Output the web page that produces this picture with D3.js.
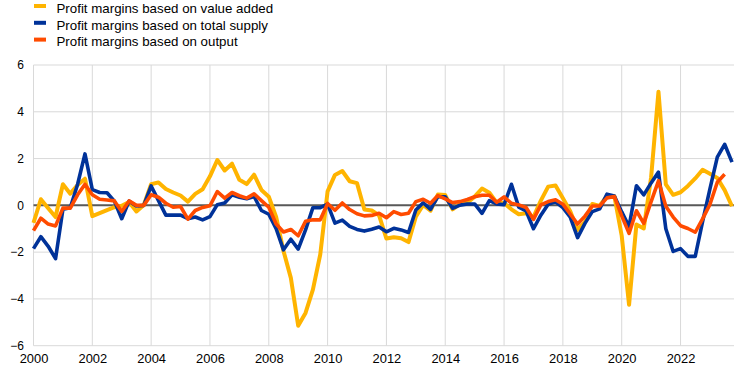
<!DOCTYPE html>
<html>
<head>
<meta charset="utf-8">
<script src="https://cdn.jsdelivr.net/npm/d3@7"></script>
<style>
  html, body { margin: 0; padding: 0; background: #fff; }
  svg { display: block; font-family: "Liberation Sans", Arial, sans-serif; }
</style>
</head>
<body>
<div id="chart"></div>
<script>
// quarterly data, 2000 Q1 onwards
var START_YEAR = 2000;

var seriesNames = [
  'Profit margins based on value added',
  'Profit margins based on total supply',
  'Profit margins based on output'
];

var valueAdded = [
  -0.75, 0.26, -0.12, -0.5, 0.9, 0.5, 0.87, 1.14,
  -0.46, -0.33, -0.2, -0.08, -0.02, 0.14, -0.26, 0.02,
  0.9, 0.98, 0.7, 0.55, 0.42, 0.16, 0.49, 0.69,
  1.24, 1.94, 1.49, 1.78, 1.09, 0.91, 1.31, 0.66,
  0.37, -0.5, -1.95, -3.1, -5.15, -4.6, -3.6, -2.1,
  0.6, 1.3, 1.47, 1.03, 0.95, -0.18, -0.22, -0.43,
  -1.42, -1.36, -1.41, -1.57, -0.48, 0.02, -0.23, 0.46,
  0.44, -0.17, 0.06, 0.11, 0.37, 0.72, 0.54, 0.11,
  0.1, -0.17, -0.38, -0.34, -0.5, 0.2, 0.8, 0.85,
  0.3, -0.25, -1.05, -0.7, 0.06, -0.02, 0.4, 0.39,
  -1.3, -4.25, -0.82, -0.99, 1.2, 4.86, 0.9, 0.45,
  0.56, 0.83, 1.15, 1.52, 1.35, 1.17, 0.65, -0.04
];

var totalSupply = [
  -1.85, -1.34, -1.75, -2.28, -0.17, -0.1, 0.9, 2.2,
  0.67, 0.55, 0.54, 0.18, -0.57, 0.18, -0.03, 0,
  0.83, 0.2, -0.42, -0.42, -0.42, -0.57, -0.5, -0.62,
  -0.48, 0.03, 0.1, 0.45, 0.35, 0.28, 0.38, -0.22,
  -0.38, -1.0, -1.9, -1.45, -1.87, -1.05, -0.1, -0.1,
  0.05, -0.76, -0.63, -0.9, -1.03, -1.1, -1.02, -0.93,
  -1.13, -0.98, -1.05, -1.16, -0.2, 0.11, -0.17, 0.37,
  0.37, -0.13, 0.01, 0.06, 0.06, -0.34, 0.2, 0.06,
  0.03, 0.9, -0.08, -0.24, -1.0, -0.42, 0.05, 0.15,
  -0.1, -0.5, -1.38, -0.77, -0.27, -0.15, 0.48, 0.4,
  -0.28, -0.91, 0.84, 0.45, 0.96, 1.42, -1.0, -1.97,
  -1.85, -2.18, -2.18, -0.7, 0.7, 2.06, 2.61, 1.85
];

var output = [
  -1.08, -0.55, -0.8, -0.88, -0.12, -0.12, 0.45, 0.9,
  0.45, 0.26, 0.23, 0.19, -0.26, 0.19, 0, 0,
  0.45, 0.35, 0.09, -0.08, -0.05, -0.59, -0.22, -0.09,
  -0.02, 0.59, 0.31, 0.55, 0.41, 0.31, 0.49, 0.2,
  -0.08, -0.8, -1.14, -1.03, -1.3, -0.68, -0.62, -0.62,
  0.08, -0.21, 0.1, -0.18, -0.36, -0.45, -0.43, -0.34,
  -0.53, -0.27, -0.39, -0.34, 0.16, 0.26, 0.09, 0.42,
  0.28, 0.12, 0.16, 0.25, 0.37, 0.43, 0.43, 0.13,
  0.36, 0.09, 0.02, -0.09, -0.6, 0.02, 0.16, 0.24,
  0.05, -0.37, -0.8, -0.46, -0.03, -0.03, 0.32, 0.38,
  -0.45, -1.2, -0.23, -0.77, 0.16, 1.05, -0.04, -0.5,
  -0.87, -0.99, -1.15, -0.58, 0.04, 0.99, 1.33
];

var xTicks = [2000, 2002, 2004, 2006, 2008, 2010, 2012, 2014, 2016, 2018, 2020, 2022];
var yTicks = [-6, -4, -2, 0, 2, 4, 6];

var colors = ['#ffb400', '#003299', '#ff4b00'];
var widths = [4, 3.6, 3.6];

var W = 742, H = 371;
var svg = d3.select('#chart').append('svg')
  .attr('width', W).attr('height', H);

var x = d3.scaleLinear().domain([2000, 2023.75]).range([33.5, 732]);
var y = d3.scaleLinear().domain([-6, 6]).range([345.7, 65]);
var plotRight = 734;

// gridlines
var grid = svg.append('g');
grid.selectAll('line.h').data(yTicks).join('line')
  .attr('x1', x(2000)).attr('x2', plotRight)
  .attr('y1', function (d) { return y(d); }).attr('y2', function (d) { return y(d); })
  .attr('stroke', '#d9d9d9').attr('stroke-width', 1);
grid.selectAll('line.v').data(xTicks).join('line')
  .attr('x1', function (d) { return x(d); }).attr('x2', function (d) { return x(d); })
  .attr('y1', y(6)).attr('y2', y(-6))
  .attr('stroke', '#d9d9d9').attr('stroke-width', 1);

// axes (labels only)
var xAxis = svg.append('g')
  .attr('transform', 'translate(0,' + y(-6) + ')')
  .call(d3.axisBottom(x).tickValues(xTicks).tickFormat(d3.format('d')).tickSize(0).tickPadding(8));
xAxis.select('.domain').remove();
xAxis.selectAll('text').attr('font-size', '12.9px').attr('fill', '#000')
  .attr('font-family', '"Liberation Sans", Arial, sans-serif');

var yAxis = svg.append('g')
  .attr('transform', 'translate(24,0)')
  .call(d3.axisLeft(y).tickValues(yTicks).tickSize(0).tickPadding(0));
yAxis.select('.domain').remove();
yAxis.selectAll('text').attr('font-size', '12px').attr('fill', '#000')
  .attr('font-family', '"Liberation Sans", Arial, sans-serif');

// zero line
svg.append('line')
  .attr('x1', x(2000)).attr('x2', plotRight)
  .attr('y1', y(0)).attr('y2', y(0))
  .attr('stroke', '#595959').attr('stroke-width', 2);

// series
var allSeries = [valueAdded, totalSupply, output];
var line = d3.line()
  .x(function (d, i) { return x(START_YEAR + i / 4); })
  .y(function (d) { return y(d); });

allSeries.forEach(function (vals, k) {
  svg.append('path')
    .datum(vals)
    .attr('d', line)
    .attr('fill', 'none')
    .attr('stroke', colors[k])
    .attr('stroke-width', widths[k])
    .attr('stroke-linejoin', 'round')
    .attr('stroke-linecap', 'butt');
});

// legend
var legend = svg.append('g');
seriesNames.forEach(function (name, k) {
  var ly = 6 + k * 16.8;
  legend.append('rect')
    .attr('x', 34).attr('y', ly - 2)
    .attr('width', 12).attr('height', 4)
    .attr('fill', colors[k]);
  legend.append('text')
    .attr('x', 56.5).attr('y', ly + 6.8)
    .attr('font-size', '13.3px').attr('fill', '#000')
    .text(name);
});
</script>
</body>
</html>
